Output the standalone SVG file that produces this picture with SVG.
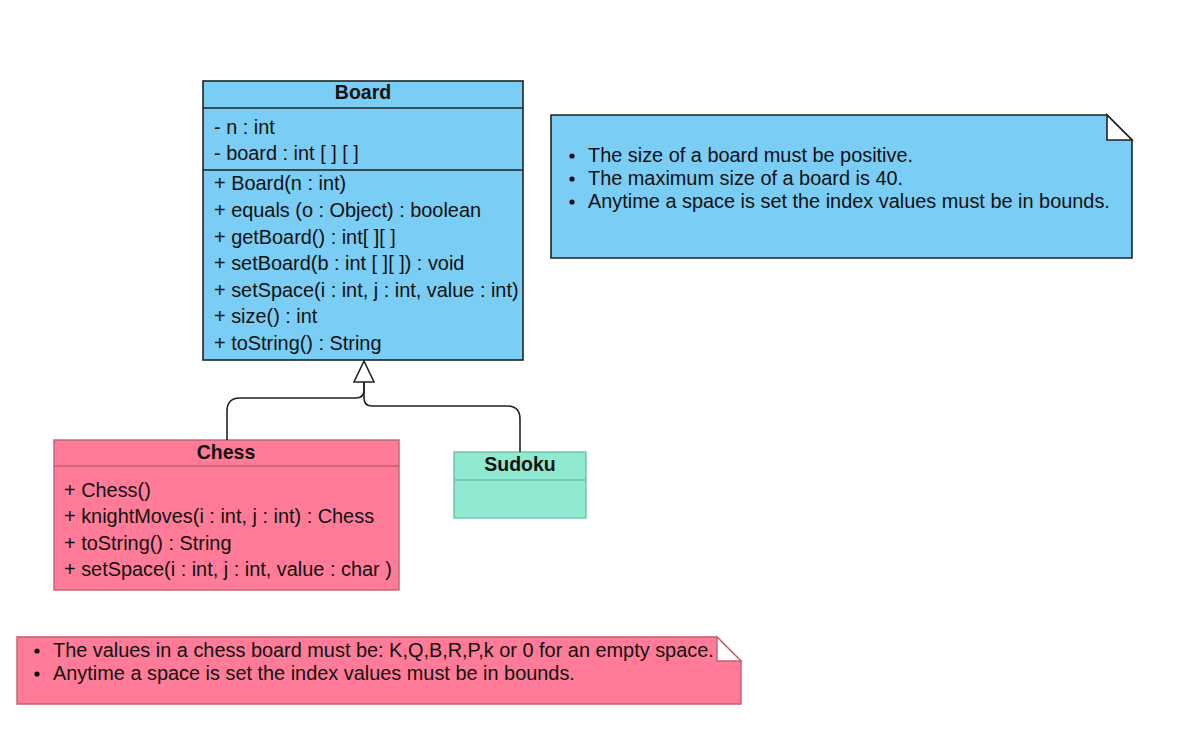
<svg xmlns="http://www.w3.org/2000/svg" width="1180" height="744" viewBox="0 0 1180 744">
<style>
text{font-family:"Liberation Sans",Arial,sans-serif;font-size:19.9px;fill:#111}
.t{font-weight:bold;text-anchor:middle;font-size:19.5px}
.blue{fill:#7acdf4;stroke:#222;stroke-width:1.6}
.pink{fill:#ff7b98;stroke:#c0626f;stroke-width:1.4}
.green{fill:#90e9d1;stroke:#6cbfa5;stroke-width:1.4}
.fold{fill:#fff}
.conn{fill:none;stroke:#222;stroke-width:1.6}
</style>
<rect width="1180" height="744" fill="#fff"/>
<g id="board">
<rect class="blue" x="203" y="81" width="320" height="279"/>
<line class="blue" x1="203" y1="108" x2="523" y2="108"/>
<line class="blue" x1="203" y1="170" x2="523" y2="170"/>
<text class="t" x="363" y="99">Board</text>
<text x="214" y="134">- n : int</text>
<text x="214" y="160">- board : int [ ] [ ]</text>
<text x="214" y="190">+ Board(n : int)</text>
<text x="214" y="217">+ equals (o : Object) : boolean</text>
<text x="214" y="244">+ getBoard() : int[ ][ ]</text>
<text x="214" y="270">+ setBoard(b : int [ ][ ]) : void</text>
<text x="214" y="297">+ setSpace(i : int, j : int, value : int)</text>
<text x="214" y="323">+ size() : int</text>
<text x="214" y="350">+ toString() : String</text>
</g>
<g id="board-note">
<polygon class="blue" points="551,115 1107,115 1132,140 1132,258 551,258"/>
<polygon class="blue fold" points="1107,115 1107,140 1132,140"/>
<circle cx="572" cy="156" r="2.6" fill="#111"/>
<circle cx="572" cy="179" r="2.6" fill="#111"/>
<circle cx="572" cy="202" r="2.6" fill="#111"/>
<text x="588" y="162">The size of a board must be positive.</text>
<text x="588" y="185">The maximum size of a board is 40.</text>
<text x="588" y="208">Anytime a space is set the index values must be in bounds.</text>
</g>
<g id="chess">
<rect class="pink" x="54" y="440" width="345" height="150"/>
<line class="pink" x1="54" y1="466" x2="399" y2="466"/>
<text class="t" x="226" y="459">Chess</text>
<text x="64" y="497">+ Chess()</text>
<text x="64" y="523">+ knightMoves(i : int, j : int) : Chess</text>
<text x="64" y="550">+ toString() : String</text>
<text x="64" y="576">+ setSpace(i : int, j : int, value : char )</text>
</g>
<g id="sudoku">
<rect class="green" x="454" y="452" width="132" height="66"/>
<line class="green" x1="454" y1="480" x2="586" y2="480"/>
<text class="t" x="520" y="471">Sudoku</text>
</g>
<g id="chess-note">
<polygon class="pink" points="17,637 717,637 741,661 741,704 17,704"/>
<polygon class="pink fold" points="717,637 717,661 741,661"/>
<circle cx="37" cy="651" r="2.6" fill="#111"/>
<circle cx="37" cy="674" r="2.6" fill="#111"/>
<text x="53" y="657">The values in a chess board must be: K,Q,B,R,P,k or 0 for an empty space.</text>
<text x="53" y="680">Anytime a space is set the index values must be in bounds.</text>
</g>
<g id="connectors">
<path class="conn" d="M227,440 V411 Q227,398 240,398 H356 Q364,398 364,390 V382"/>
<path class="conn" d="M520,452 V419 Q520,406 507,406 H372 Q364,406 364,398 V382"/>
<polygon points="364,361 354,382 374,382" fill="#fff" stroke="#222" stroke-width="1.6"/>
</g>
</svg>
